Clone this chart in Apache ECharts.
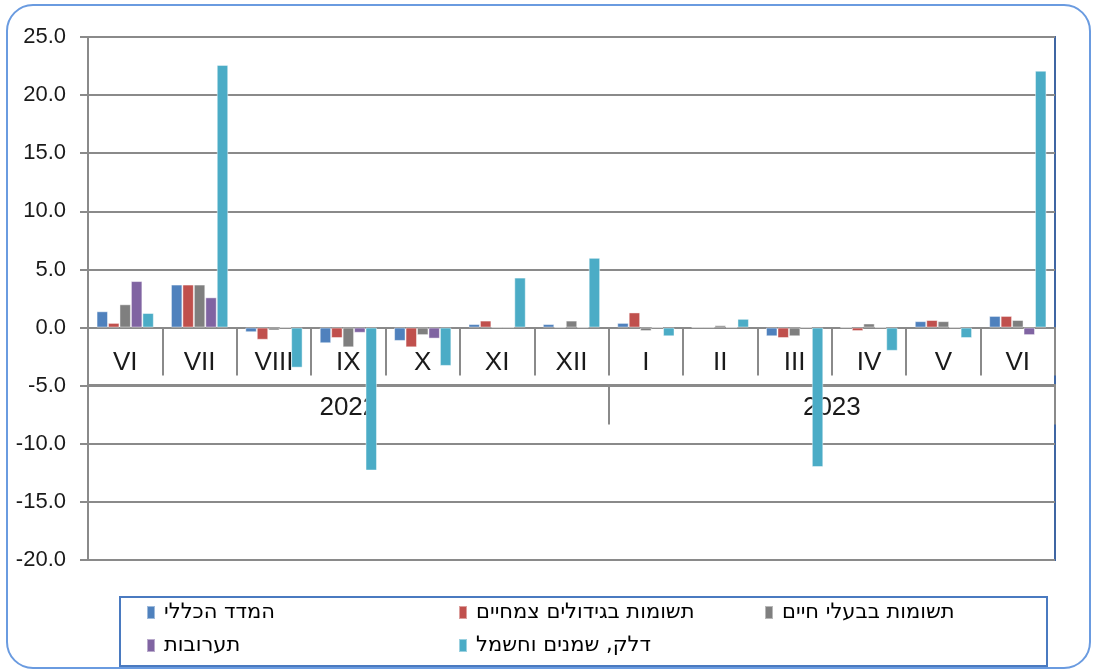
<!DOCTYPE html>
<html>
<head>
<meta charset="utf-8">
<script src="https://cdn.jsdelivr.net/npm/echarts@6/dist/echarts.min.js"></script>
<style>
html,body{margin:0;padding:0;background:#fff;}
#main{width:1093px;height:671px;}
</style>
</head>
<body>
<div id="main"></div>
<script>
var categories = ['VI','VII','VIII','IX','X','XI','XII','I','II','III','IV','V','VI'];
var years = ['2022','2023'];
var yearSpans = [7, 6];
var seriesNames = ['המדד הכללי','תשומות בגידולים צמחיים','תשומות בבעלי חיים','תערובות','דלק, שמנים וחשמל'];
var general   = [1.4, 3.7, -0.4, -1.35, -1.15, 0.3, 0.3, 0.4, 0, -0.75, 0, 0.55, 1.0];
var crops     = [0.4, 3.7, -1.05, -0.9, -1.7, 0.6, 0, 1.3, 0, -0.9, -0.3, 0.65, 1.0];
var livestock = [2.0, 3.7, -0.25, -1.7, -0.65, 0, 0.6, -0.3, 0.2, -0.75, 0.35, 0.55, 0.65];
var feed      = [4.0, 2.6, 0, -0.45, -0.95, 0, 0, 0, 0, 0, 0, 0, -0.65];
var fuel      = [1.25, 22.6, -3.45, -12.3, -3.3, 4.3, 6.0, -0.75, 0.75, -12.0, -2.0, -0.9, 22.1];
var yTicks = [-20, 25, 5];

var colors = ['#4F81BD','#C0504D','#7F7F7F','#8064A2','#4BACC6'];
var allData = [general, crops, livestock, feed, fuel];

var yearBounds = [0];
yearSpans.forEach(function(s){ yearBounds.push(yearBounds[yearBounds.length-1] + s); });
var yearCenters = [];
for (var i = 0; i < years.length; i++) yearCenters.push((yearBounds[i] + yearBounds[i+1]) / 2);

var chart = echarts.init(document.getElementById('main'));
var gridLeft = 88, gridRight = 38, gridTop = 37, gridBottom = 111;
var plotH = 671 - gridTop - gridBottom;
var zeroY = gridTop + plotH * (yTicks[1] - 0) / (yTicks[1] - yTicks[0]);
var zeroOffset = -((671 - gridBottom) - zeroY);

var font = '"Liberation Sans", Arial, sans-serif';
var legendFont = '"DejaVu Sans", "Liberation Sans", sans-serif';
var axisGray = '#8a8a8a';

var series = allData.map(function(d, i){
  return {
    name: seriesNames[i],
    type: 'bar',
    data: d,
    barGap: '0%',
    barCategoryGap: '23%',
    itemStyle: { color: colors[i], borderColor: 'rgba(255,255,255,0.45)', borderWidth: 1 },
    xAxisIndex: 0, yAxisIndex: 0
  };
});

function legendFor(left, idxs){
  return {
    left: left, top: 602, orient: 'vertical', padding: 0,
    itemWidth: 8, itemHeight: 13, itemGap: 12,
    icon: 'rect',
    data: idxs.map(function(k){ return seriesNames[k]; }),
    selectedMode: false,
    textStyle: { fontFamily: legendFont, fontSize: 21, color: '#000', lineHeight: 21, padding: [0,0,0,4] }
  };
}

chart.setOption({
  animation: false,
  grid: [
    { left: gridLeft, right: gridRight, top: gridTop, bottom: gridBottom, show: true, borderColor: '#3F66A3', borderWidth: 2 },
    { left: gridLeft, right: gridRight, top: zeroY + 57, height: 40 }
  ],
  xAxis: [
    {
      type: 'category', data: categories, gridIndex: 0, position: 'bottom', offset: zeroOffset,
      axisLine: { onZero: false, lineStyle: { color: axisGray, width: 2 } },
      axisTick: { show: true, interval: 0, length: 48, lineStyle: { color: axisGray, width: 2 } },
      axisLabel: { interval: 0, margin: 22, fontFamily: font, fontSize: 26, color: '#1a1a1a' }
    },
    {
      type: 'value', gridIndex: 1, min: 0, max: yearBounds[yearBounds.length-1], position: 'top',
      axisLine: { show: true, onZero: false, lineStyle: { color: axisGray, width: 2 } },
      axisTick: { show: true, inside: true, length: 40, customValues: yearBounds.slice(1), lineStyle: { color: axisGray, width: 2 } },
      axisLabel: { show: true, inside: true, margin: 10, customValues: yearCenters, fontFamily: font, fontSize: 26, color: '#1a1a1a',
        formatter: function(v){ for (var i = 0; i < years.length; i++) if (Math.abs(v - yearCenters[i]) < 1e-6) return years[i]; return ''; } },
      splitLine: { show: false }
    }
  ],
  yAxis: [
    {
      type: 'value', gridIndex: 0, min: yTicks[0], max: yTicks[1], interval: yTicks[2],
      axisLine: { show: true, lineStyle: { color: axisGray, width: 2 } },
      axisTick: { show: true, length: 8, lineStyle: { color: axisGray, width: 2 } },
      axisLabel: { margin: 22, fontFamily: font, fontSize: 22, color: '#1a1a1a', formatter: function(v){ return v.toFixed(1); } },
      splitLine: { show: true, lineStyle: { color: axisGray, width: 2 } }
    },
    { type: 'value', gridIndex: 1, show: false }
  ],
  legend: [ legendFor(146, [0,3]), legendFor(458, [1,4]), legendFor(764, [2]) ],
  graphic: [
    { type: 'rect', shape: { x: 7, y: 5, width: 1083, height: 663, r: 26 }, style: { fill: 'none', stroke: '#6A9BE0', lineWidth: 2 }, z: -1, silent: true },
    { type: 'rect', shape: { x: 120, y: 597, width: 927, height: 69 }, style: { fill: 'none', stroke: '#4A7AC0', lineWidth: 2 }, z: -1, silent: true }
  ],
  series: series
});
</script>
</body>
</html>
